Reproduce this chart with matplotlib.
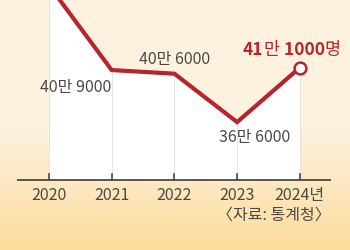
import numpy as np
import matplotlib
matplotlib.use("Agg")
from matplotlib import pyplot as plt
from matplotlib.offsetbox import TextArea, HPacker, AnnotationBbox

plt.rcParams['font.family'] = ['Noto Sans CJK KR', 'DejaVu Sans']

YEARS = [2020, 2021, 2022, 2023, 2024]
VALUES = [479000, 409000, 406000, 366000, 411000]
TICK_LABELS = ['2020', '2021', '2022', '2023', '2024년']
LABELS = {2021: '40만 9000', 2022: '40만 6000', 2023: '36만 6000'}
SOURCE = '〈자료: 통계청〉'

RED = '#b5262c'
GREY = '#4d4843'
BASE = 318000

fig = plt.figure(figsize=(3.5, 2.5), dpi=100)
ax = fig.add_axes([0, 0, 1, 1])
ax.set_xlim(2019.22, 2024.80)
ax.set_ylim(260300, 466900)
ax.axis('off')

# peach gradient background
grad = np.linspace(0, 1, 256)[:, None]
top = np.array([253, 241, 223]) / 255
bot = np.array([252, 220, 155]) / 255
w = np.clip((grad - 0.5) / 0.5, 0, 1) ** 1.1
img = top * (1 - w[..., None]) + bot * w[..., None]
img = np.repeat(img, 2, axis=1)
ax.imshow(img, extent=[2019.22, 2024.80, 260300, 466900], aspect='auto',
          origin='upper', zorder=0)

ax.fill_between(YEARS, VALUES, BASE, color='white', zorder=1, lw=0)
ax.vlines(YEARS, BASE, VALUES, color='#e2dfdc', lw=0.6, zorder=2)
ax.plot(YEARS, VALUES, color=RED, lw=3.0, solid_joinstyle='miter', zorder=3)
ax.plot(YEARS[-1], VALUES[-1], 'o', ms=8.5, mfc='white', mec=RED, mew=1.8, zorder=4)

# x axis
ax.plot([2019.49, 2024.50], [BASE, BASE], color=GREY, lw=1.3, zorder=3,
        solid_capstyle='butt')
for yr, lab in zip(YEARS, TICK_LABELS):
    ax.plot([yr, yr], [BASE, BASE + 5000], color=GREY, lw=1.2, zorder=3)
    ax.annotate(lab, (yr, BASE), xytext=(0, -15), textcoords='offset pixels',
                ha='center', va='center', fontsize=11.5, color=GREY)
ax.annotate(SOURCE, (2024.50, BASE), xytext=(0, -35), textcoords='offset pixels',
            ha='right', va='center', fontsize=11.5, color=GREY)

# value labels
offsets = {2021: (0, -17, 'right'), 2022: (0, 14.5, 'center'), 2023: (18, -15, 'center')}
for yr, val in zip(YEARS, VALUES):
    if yr in LABELS:
        dx, dy, ha = offsets[yr]
        ax.annotate(LABELS[yr], (yr, val), xytext=(dx, dy), textcoords='offset pixels',
                    ha=ha, va='center', fontsize=11.5, color=GREY, zorder=5)

parts = [('41', 'bold'), ('만', 'normal'), (' 1000', 'bold'), ('명', 'normal')]
box = HPacker(children=[TextArea(t, textprops=dict(color=RED, fontsize=12.5, fontweight=wt))
                        for t, wt in parts], sep=0, align='baseline')
ab = AnnotationBbox(box, (YEARS[-1], VALUES[-1]), xybox=(-8, 17.5),
                    boxcoords='offset pixels', frameon=False, pad=0)
ax.add_artist(ab)

fig.savefig('out.png', dpi=100)
